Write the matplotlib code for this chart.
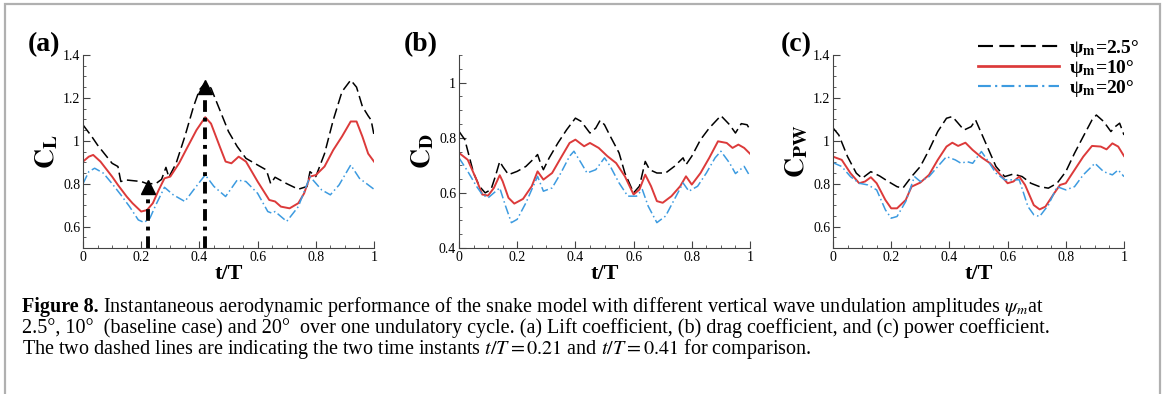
import matplotlib
matplotlib.use("Agg")
import matplotlib.pyplot as plt
from matplotlib.patches import Rectangle
from matplotlib.ticker import MultipleLocator, FuncFormatter

plt.rcParams['font.family'] = ['Liberation Serif', 'DejaVu Serif']
plt.rcParams['mathtext.fontset'] = 'stix'

# ---- data ----
# (a) lift coefficient
t_a_25 = [0, .03, .05, .1, .12, .13, .15, .2, .22, .25, .27, .285, .295, .32, .35, .38, .4, .42, .44, .47,
          .5, .53, .56, .6, .63, .645, .66, .7, .74, .77, .78, .8, .83, .86, .89, .92, .94, .96, .98, .99, 1]
cl_25 = [1.074, 1.02, .98, .895, .88, .81, .817, .81, .80, .80, .82, .876, .83, .895, 1.02, 1.16, 1.237, 1.27,
         1.245, 1.144, 1.043, .973, .918, .887, .864, .80, .83, .80, .774, .787, .856, .833, .94, 1.097, 1.229,
         1.283, 1.25, 1.16, 1.116, 1.097, 1.027]
t_a_10 = [0, .02, .035, .06, .1, .12, .15, .17, .2, .22, .24, .26, .28, .3, .33, .36, .39, .42, .44, .47, .49,
          .51, .535, .56, .6, .64, .66, .68, .71, .74, .76, .78, .8, .83, .86, .89, .92, .94, .96, .98, 1]
cl_10 = [.903, .926, .934, .903, .833, .794, .74, .709, .67, .677, .709, .77, .825, .833, .895, .973, 1.05,
         1.11, 1.08, .973, .903, .895, .926, .903, .81, .724, .717, .693, .685, .709, .755, .833, .84, .88,
         .957, 1.02, 1.09, 1.09, 1.02, .94, .903]
t_a_20 = [0, .02, .04, .07, .1, .13, .16, .19, .21, .23, .25, .28, .31, .35, .38, .42, .45, .49, .53, .56,
          .6, .635, .65, .66, .7, .74, .78, .82, .85, .88, .92, .95, 1]
cl_20 = [.80, .856, .872, .849, .80, .748, .693, .631, .619, .639, .70, .783, .748, .717, .771, .841, .787,
         .74, .817, .81, .755, .67, .662, .67, .624, .693, .833, .771, .748, .794, .887, .825, .774]
arrow_t = [0.225, 0.42]
arrow_top = [0.81, 1.275]

# (b) drag coefficient
t_b_25 = [0, .02, .05, .07, .09, .11, .125, .14, .15, .17, .2, .23, .26, .27, .28, .29, .31, .34, .37, .4,
          .42, .45, .47, .485, .5, .52, .55, .57, .6, .62, .64, .655, .68, .71, .74, .77, .78, .8, .83, .86,
          .9, .93, .95, .97, .99, 1]
cd_25 = [.823, .793, .672, .624, .60, .612, .66, .714, .696, .666, .678, .696, .727, .739, .708, .684, .727,
         .781, .829, .871, .859, .817, .835, .863, .847, .805, .745, .672, .60, .624, .714, .684, .672, .672,
         .696, .727, .702, .733, .793, .835, .88, .847, .817, .851, .847, .829]
t_b_10 = [0, .03, .06, .08, .1, .12, .14, .15, .17, .19, .22, .25, .27, .29, .32, .35, .38, .4, .43, .45,
          .48, .51, .54, .57, .6, .62, .64, .66, .68, .7, .73, .76, .78, .8, .83, .86, .89, .92, .94, .96,
          .98, 1]
cd_10 = [.745, .72, .648, .594, .59, .618, .664, .642, .582, .561, .578, .624, .678, .648, .672, .727, .781,
         .793, .769, .781, .763, .733, .708, .66, .594, .612, .666, .624, .57, .564, .588, .624, .66, .63,
         .672, .727, .787, .781, .763, .775, .763, .742]
t_b_20 = [0, .03, .06, .08, .1, .12, .14, .16, .18, .2, .23, .26, .27, .29, .32, .35, .38, .395, .42, .44,
          .47, .5, .52, .55, .58, .61, .63, .65, .68, .71, .74, .77, .79, .82, .85, .88, .9, .93, .95, .98, 1]
cd_20 = [.727, .678, .624, .594, .582, .60, .618, .552, .492, .504, .564, .636, .66, .606, .618, .672, .733,
         .751, .708, .672, .684, .727, .696, .636, .588, .588, .612, .552, .492, .516, .576, .636, .606,
         .624, .672, .727, .751, .708, .67, .696, .66]

# (c) power coefficient
t_c_25 = [0, .02, .05, .08, .1, .13, .16, .19, .22, .24, .27, .3, .33, .36, .39, .41, .43, .45, .475, .49,
          .51, .53, .56, .59, .62, .65, .68, .71, .74, .77, .8, .83, .86, .89, .905, .93, .955, .97, .985, 1]
cpw_25 = [1.06, 1.027, .926, .849, .825, .856, .836, .81, .786, .779, .833, .88, .957, 1.043, 1.105, 1.113,
          1.082, 1.05, 1.066, 1.097, 1.035, .973, .88, .833, .845, .833, .802, .786, .779, .802, .856, .942,
          1.02, 1.097, 1.12, 1.09, 1.043, 1.066, 1.082, 1.027]
t_c_10 = [0, .03, .06, .09, .11, .13, .15, .18, .2, .22, .25, .27, .3, .33, .36, .39, .41, .43, .455, .48,
          .51, .54, .57, .6, .62, .64, .66, .69, .71, .73, .76, .78, .8, .83, .86, .89, .92, .94, .96, .98, 1]
cpw_10 = [.926, .911, .849, .802, .81, .83, .802, .724, .685, .685, .724, .786, .805, .841, .911, .973, .991,
          .976, .991, .957, .923, .895, .849, .802, .81, .833, .794, .70, .68, .693, .755, .794, .802, .864,
          .926, .976, .973, .96, .988, .973, .929]
t_c_20 = [0, .03, .06, .09, .12, .15, .18, .2, .22, .25, .28, .3, .33, .36, .39, .42, .44, .46, .48, .51,
          .53, .56, .59, .62, .64, .67, .69, .71, .74, .77, .8, .83, .86, .9, .93, .96, .98, 1]
cpw_20 = [.898, .88, .833, .802, .794, .771, .678, .639, .647, .717, .833, .81, .833, .88, .926, .911, .895,
          .903, .895, .95, .911, .849, .818, .818, .818, .693, .655, .647, .70, .786, .771, .786, .841, .895,
          .856, .841, .864, .833]

panel_tags = ['(a)', '(b)', '(c)']
y_names = [r'$\mathbf{C_L}$', r'$\mathbf{C_D}$', r'$\mathbf{C_{PW}}$']
y_limits = [(0.5, 1.4), (0.4, 1.1), (0.5, 1.4)]
legend_labels = [r'ψ$_\mathbf{m}$=2.5°', r'ψ$_\mathbf{m}$=10°', r'ψ$_\mathbf{m}$=20°']

series = [
    [(t_a_25, cl_25), (t_a_10, cl_10), (t_a_20, cl_20)],
    [(t_b_25, cd_25), (t_b_10, cd_10), (t_b_20, cd_20)],
    [(t_c_25, cpw_25), (t_c_10, cpw_10), (t_c_20, cpw_20)],
]
styles = [
    dict(color='black', ls=(0, (7, 3)), lw=1.1),
    dict(color='#dc3a3a', ls='-', lw=1.4),
    dict(color='#3d9be0', ls=(0, (6, 2, 1, 2)), lw=1.1),
]

W, H = 1165, 394
fig = plt.figure(figsize=(W / 100, H / 100), dpi=100)
fig.add_artist(Rectangle((5 / W, -0.1), 1155 / W, 1.1 - 4 / H, transform=fig.transFigure,
                         fill=False, edgecolor='#b0b0b0', lw=1.6))

lefts = [83, 459, 833]
tag_dx = [55, 55, 52]
fmt = FuncFormatter(lambda v, p: ('%g' % round(v, 2)))
axes = []
for i, left in enumerate(lefts):
    ax = fig.add_axes([left / W, (H - 248) / H, 291 / W, 193 / H])
    axes.append(ax)
    lines = []
    for (t, v), st in zip(series[i], styles):
        ln, = ax.plot(t, v, **st)
        lines.append(ln)
    ax.set_xlim(0, 1)
    ax.set_ylim(*y_limits[i])
    for s in ['top', 'right']:
        ax.spines[s].set_visible(False)
    ax.spines['left'].set_color('#444444')
    ax.spines['bottom'].set_color('#444444')
    ax.xaxis.set_major_locator(MultipleLocator(0.2))
    ax.xaxis.set_minor_locator(MultipleLocator(0.05))
    ax.yaxis.set_major_locator(MultipleLocator(0.2))
    ax.yaxis.set_minor_locator(MultipleLocator(0.05))
    ax.xaxis.set_major_formatter(fmt)
    ax.yaxis.set_major_formatter(fmt)
    ax.tick_params(which='both', direction='in', color='#444444', labelsize=10, pad=2)
    ax.tick_params(which='major', length=5)
    ax.tick_params(which='minor', length=2.5)
    ax.set_xlabel('t/T', fontsize=16, fontweight='bold', labelpad=0)
    ax.set_ylabel(y_names[i], fontsize=20, labelpad=2)
    fig.text((left - tag_dx[i]) / W, (H - 45) / H, panel_tags[i], fontsize=20, fontweight='bold',
             va='center', ha='left')

# arrows marking the two instants in (a)
ax = axes[0]
for xt, top in zip(arrow_t, arrow_top):
    ax.plot([xt, xt], [0.5, top - 0.035], color='black', lw=2.8, ls=(0, (3, 1.5, 1, 1.5)),
            solid_capstyle='butt', clip_on=False)
    ax.plot([xt], [top - 0.025], marker='^', ms=10, color='black', clip_on=False)

leg = axes[2].legend(lines, legend_labels, loc='upper left', bbox_to_anchor=(968 / W, 1 - 28 / H),
                     bbox_transform=fig.transFigure, frameon=False, handlelength=4.2,
                     handletextpad=0.5, labelspacing=-0.05, borderpad=0,
                     prop={'family': 'Liberation Serif', 'weight': 'bold', 'size': 14})
for hl in leg.get_lines():
    hl.set_linewidth(hl.get_linewidth() * 1.4)

# caption
cap_fs = 14.5
x0 = 22 / W
t1 = fig.text(x0, 1 - 307 / H, 'Figure 8.', fontsize=cap_fs, fontweight='bold', va='center')
fig.canvas.draw()
bb = t1.get_window_extent()
fig.text(bb.x1 / W + 4 / W, 1 - 307 / H,
         r'Instantaneous aerodynamic performance of the snake model with different vertical wave '
         r'undulation amplitudes $\psi_{\it m}$at', fontsize=cap_fs, va='center')
fig.text(x0, 1 - 328 / H,
         '2.5°, 10°  (baseline case) and 20°  over one undulatory cycle. (a) Lift coefficient, '
         '(b) drag coefficient, and (c) power coefficient.', fontsize=cap_fs, va='center')
fig.text(x0, 1 - 349 / H,
         r'The two dashed lines are indicating the two time instants $t/T=0.21$ and $t/T=0.41$ '
         r'for comparison.', fontsize=cap_fs, va='center')

fig.savefig('out.png', dpi=100)
